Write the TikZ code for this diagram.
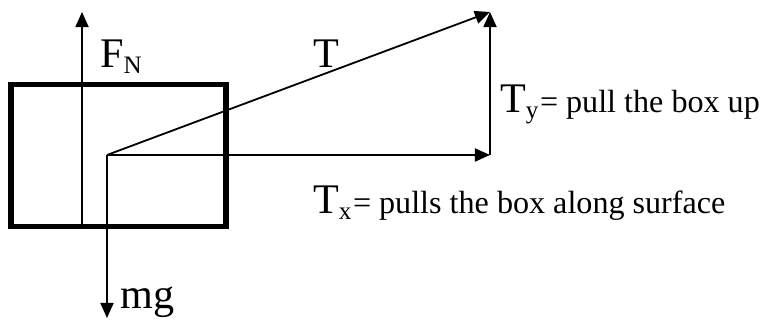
\documentclass[tikz,border=0pt]{standalone}
\usepackage{fontspec}
\setmainfont{Liberation Serif}
\usetikzlibrary{arrows.meta,positioning}
\newcommand{\idx}[1]{\raisebox{-5pt}{\fontsize{25}{27}\selectfont #1}}
\newcommand{\desc}{\fontsize{32}{34}\selectfont\kern1.5pt}
\tikzset{
  force/.style={line width=1.8pt, -{Triangle[length=15pt,width=13pt]}},
  biglbl/.style={font=\fontsize{42}{46}\selectfont, anchor=base west, inner sep=0pt}
}
\begin{document}
\begin{tikzpicture}
  \useasboundingbox (0,0) rectangle (26.81,11.2);
  % Box
  \node[draw, line width=5pt, minimum width=7.525cm, minimum height=5.0cm, inner sep=0pt] (box) at (4.1475,5.7575) {};
  % Force points
  \coordinate (O) at (3.745,5.775);
  \coordinate (tipT) at (17.15,10.78);
  \coordinate (tipX) at (17.15,5.775);
  \coordinate (tipN) at (2.87,10.78);
  \coordinate (tipW) at (3.745,0.07);
  % Forces
  \draw[force] (tipN |- box.south) -- (tipN);
  \draw[force] (O) -- (tipW);
  \draw[force] (O) -- (tipT);
  \draw[force] (O) -- (tipX);
  \draw[force] (tipX) -- (tipT);
  % Labels
  \node[biglbl] (lblN) at (3.5,8.82) {F\idx{N}};
  \node[biglbl] (lblT) at (10.955,8.82) {T};
  \node[biglbl] (lblTy) at (17.5,7.245) {T\idx{y}{\desc= pull the box up}};
  \node[biglbl] (lblTx) at (10.955,3.71) {T\idx{x}{\desc= pulls the box along surface}};
  \node[biglbl] (lblW) at (4.2,0.385) {mg};
\end{tikzpicture}
\end{document}
